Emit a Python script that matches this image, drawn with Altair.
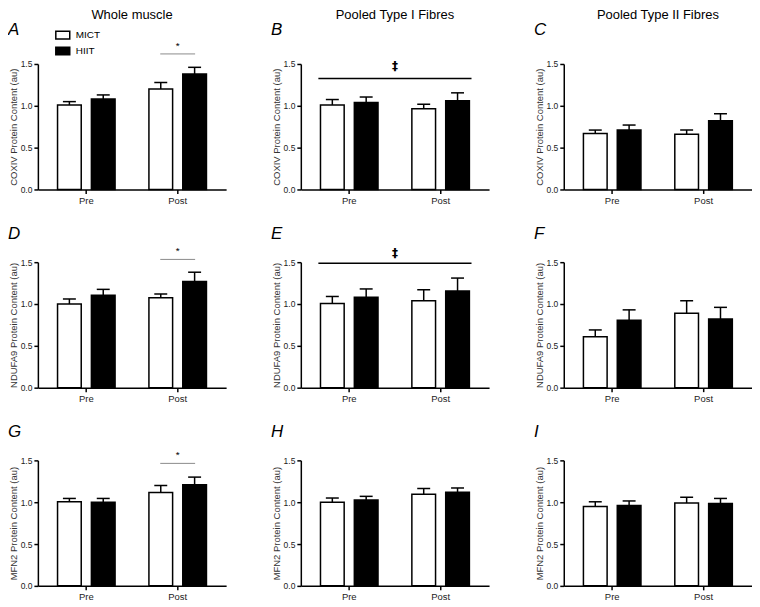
import altair as alt
import pandas as pd

FONT = "Liberation Sans"

times = ["Pre", "Post"]
groups = ["MICT", "HIIT"]
regions = ["Whole muscle", "Pooled Type I Fibres", "Pooled Type II Fibres"]
proteins = ["COXIV", "NDUFA9", "MFN2"]
letters = ["A", "B", "C", "D", "E", "F", "G", "H", "I"]

# order: Whole Pre, Whole Post, Type I Pre, Type I Post, Type II Pre, Type II Post
coxiv_mict_mean = [1.01, 1.20, 1.01, 0.965, 0.67, 0.66]
coxiv_mict_sem = [0.04, 0.08, 0.065, 0.055, 0.04, 0.05]
coxiv_hiit_mean = [1.08, 1.38, 1.04, 1.06, 0.71, 0.82]
coxiv_hiit_sem = [0.05, 0.08, 0.065, 0.095, 0.06, 0.085]

ndufa9_mict_mean = [1.00, 1.075, 1.005, 1.04, 0.61, 0.89]
ndufa9_mict_sem = [0.06, 0.045, 0.085, 0.13, 0.08, 0.15]
ndufa9_hiit_mean = [1.105, 1.27, 1.08, 1.155, 0.805, 0.82]
ndufa9_hiit_sem = [0.07, 0.11, 0.10, 0.155, 0.125, 0.14]

mfn2_mict_mean = [1.005, 1.115, 1.0, 1.095, 0.95, 0.99]
mfn2_mict_sem = [0.04, 0.085, 0.05, 0.07, 0.055, 0.07]
mfn2_hiit_mean = [1.0, 1.21, 1.025, 1.12, 0.96, 0.985]
mfn2_hiit_sem = [0.045, 0.09, 0.045, 0.05, 0.055, 0.06]

# significance annotations
sig_panels = ["A", "B", "D", "E", "G"]
sig_from = ["Post", "Pre", "Post", "Pre", "Post"]
sig_to = ["Post", "Post", "Post", "Post", "Post"]
sig_line_y = [1.62, 1.327, 1.533, 1.486, 1.464]
sig_symbol = ["*", "‡", "*", "‡", "*"]
sig_symbol_y = [1.72, 1.478, 1.63, 1.61, 1.56]

series = {
    "COXIV": (coxiv_mict_mean, coxiv_mict_sem, coxiv_hiit_mean, coxiv_hiit_sem),
    "NDUFA9": (ndufa9_mict_mean, ndufa9_mict_sem, ndufa9_hiit_mean, ndufa9_hiit_sem),
    "MFN2": (mfn2_mict_mean, mfn2_mict_sem, mfn2_hiit_mean, mfn2_hiit_sem),
}

W, H = 189, 126

legend = alt.Legend(
    orient="none", legendX=17, legendY=-37, title=None, padding=0,
    symbolType="M-1,-0.55L1,-0.55L1,0.55L-1,0.55Z", symbolSize=196,
    symbolStrokeColor="black", symbolStrokeWidth=1.5,
    labelFont=FONT, labelFontSize=10, labelColor="black", labelOffset=5,
    rowPadding=1,
)

x_enc = alt.X("Time:N", sort=times,
              scale=alt.Scale(domain=times, paddingInner=0, paddingOuter=0.03),
              axis=alt.Axis(title=None, labelAngle=0))
xo_enc = alt.XOffset("Group:N", sort=groups,
                     scale=alt.Scale(domain=groups, paddingInner=0.30, paddingOuter=0.50))
fill_enc = alt.Fill("Group:N", sort=groups,
                    scale=alt.Scale(domain=groups, range=["white", "black"]),
                    legend=legend)


def make_panel(pi, ri):
    prot = proteins[pi]
    letter = letters[pi * 3 + ri]
    mm, ms, hm, hs = series[prot]
    rows = []
    for ti, t in enumerate(times):
        k = 2 * ri + ti
        rows.append(dict(Time=t, Group="MICT", mean=mm[k], upper=mm[k] + ms[k]))
        rows.append(dict(Time=t, Group="HIIT", mean=hm[k], upper=hm[k] + hs[k]))
    df = pd.DataFrame(rows)
    base = alt.Chart(df)
    y_enc = alt.Y("mean:Q", scale=alt.Scale(domain=[0, 1.5], nice=False),
                  axis=alt.Axis(values=[0, 0.5, 1.0, 1.5], format=".1f",
                                title=f"{prot} Protein Content (au)",
                                labelFontSize=8.5, labelPadding=2, titlePadding=2))
    bars = base.mark_bar(stroke="black", strokeWidth=1.5).encode(
        x=x_enc, xOffset=xo_enc, y=y_enc, fill=fill_enc)
    err = base.mark_rule(color="black", strokeWidth=1.5).encode(
        x=x_enc, xOffset=xo_enc, y="mean:Q", y2="upper:Q")
    cap = base.mark_tick(orient="horizontal", size=13, thickness=1.5,
                         color="black", opacity=1).encode(
        x=x_enc, xOffset=xo_enc, y="upper:Q")
    layers = [bars, err, cap]

    if letter in sig_panels:
        j = sig_panels.index(letter)
        sdf = pd.DataFrame({"Time": [sig_from[j]], "Time2": [sig_to[j]],
                            "ly": [sig_line_y[j]], "sym": [sig_symbol[j]],
                            "sy": [sig_symbol_y[j]]})
        same = sig_from[j] == sig_to[j]
        if same:
            line = alt.Chart(sdf).mark_rule(color="#8a8a8a", strokeWidth=1,
                                            xOffset=-17.5, x2Offset=17.5)
            txt = alt.Chart(sdf).mark_text(font=FONT, fontSize=10, baseline="middle",
                                           fill="black").encode(
                x=alt.X("Time:N", sort=times, bandPosition=0.5, axis=alt.Axis(title=None, labelAngle=0)),
                y=alt.Y("sy:Q"), text="sym:N")
        else:
            line = alt.Chart(sdf).mark_rule(color="black", strokeWidth=1.5,
                                            xOffset=-31, x2Offset=31)
            txt = alt.Chart(sdf).mark_text(font="DejaVu Sans", fontSize=12, fontWeight="bold",
                                           baseline="middle", fill="#000000").encode(
                x=alt.value(W / 2), y=alt.Y("sy:Q"), text="sym:N")
        line = line.encode(
            x=alt.X("Time:N", sort=times, bandPosition=0.5, axis=alt.Axis(title=None, labelAngle=0)),
            x2=alt.X2("Time2:N", bandPosition=0.5),
            y=alt.Y("ly:Q"))
        layers += [line, txt]

    ldf = pd.DataFrame({"t": [letter]})
    let = alt.Chart(ldf).mark_text(font=FONT, fontSize=17, fontStyle="italic",
                                   align="left", baseline="alphabetic",
                                   fill="black").encode(
        text="t:N", x=alt.value(-30), y=alt.value(-29 if pi == 0 else -23))
    layers.append(let)

    if pi == 0:
        tdf = pd.DataFrame({"t": [regions[ri]]})
        ttl = alt.Chart(tdf).mark_text(font=FONT, fontSize=13, align="center",
                                       baseline="alphabetic", fill="black").encode(
            text="t:N", x=alt.value(W / 2), y=alt.value(-45))
        layers.append(ttl)

    return alt.layer(*layers).properties(width=W, height=H)


panels = [make_panel(pi, ri) for pi in range(3) for ri in range(3)]

chart = alt.concat(*panels, columns=3, spacing={"row": 73, "column": 75},
                   bounds="flush").properties(
    padding=0
).configure_view(stroke=None).configure_axis(
    domainColor="black", domainWidth=1.5, tickColor="black", tickWidth=1.5,
    tickSize=4, labelFont=FONT, labelFontSize=9.5, labelColor="#222",
    titleFont=FONT, titleFontSize=9.5, titleFontWeight="normal", titleColor="#333",
    grid=False,
)

chart.save("out.html", embed_options={"renderer": "svg", "actions": False})
